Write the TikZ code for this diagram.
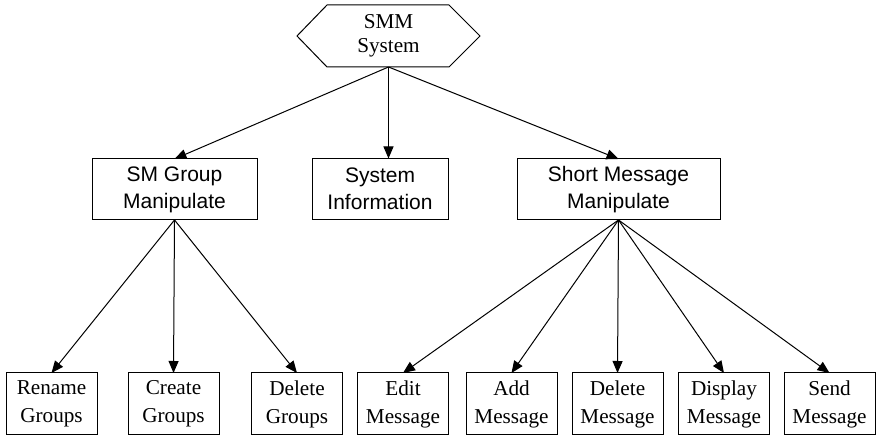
\documentclass[tikz,border=0pt]{standalone}
\usepackage{fontspec}
\setmainfont{Liberation Serif}
\newfontfamily\arialfont{Liberation Sans}
\usetikzlibrary{arrows.meta,calc}

\begin{document}
\begin{tikzpicture}[x=0.5pt,y=0.5pt,line width=0.5pt]
	\tikzset{>={Triangle[length=6pt,width=5pt]}}
	\tikzset{box/.style={draw,align=center,inner sep=0pt,outer sep=0pt,font=\fontsize{10.6}{14}\selectfont}}
	\tikzset{lowbox/.style={box,minimum width=45.5pt,minimum height=31pt}}
	\tikzset{midbox/.style={box,minimum height=30.5pt,font=\arialfont\fontsize{10.5}{13.5}\selectfont}}
	\useasboundingbox (0,0) rectangle (877,437);
	% top
	\node[box,draw=none,minimum width=91.5pt,minimum height=31pt,font=\fontsize{10.6}{12}\selectfont] (sys) at (388.5,401) {SMM\\System};
	\draw (sys.west) -- ([xshift=15pt]sys.north west) -- ([xshift=-15.5pt]sys.north east) -- (sys.east)
		-- ([xshift=-15.5pt]sys.south east) -- ([xshift=15pt]sys.south west) -- cycle;
	% middle
	\node[midbox,minimum width=82.5pt] (grp) at (174.5,247.5) {SM Group\\Manipulate};
	\node[midbox,minimum width=68pt] (info) at (380,248) {System\\Information};
	\node[midbox,minimum width=101.5pt] (sms) at (618.5,247.5) {Short Message\\Manipulate};
	% bottom
	\node[lowbox] (rename) at (51.5,33) {Rename\\Groups};
	\node[lowbox] (create) at (173.5,33) {Create\\Groups};
	\node[lowbox] (delgrp) at (297,33) {Delete\\Groups};
	\node[lowbox] (edit) at (403,33) {Edit\\Message};
	\node[lowbox] (add) at (511.5,33) {Add\\Message};
	\node[lowbox] (delmsg) at (617.5,33) {Delete\\Message};
	\node[lowbox] (disp) at (724,33) {Display\\Message};
	\node[lowbox] (send) at (829.5,33) {Send\\Message};
	% arrows
	\draw[->] (sys.south) -- (grp.north);
	\draw[->] (sys.south) -- (sys.south |- info.north);
	\draw[->] (sys.south) -- (sms.north);
	\foreach \t in {rename,create,delgrp}
		\draw[->] (grp.south) -- (\t.north);
	\foreach \t in {edit,add,delmsg,disp,send}
		\draw[->] (sms.south) -- (\t.north);
\end{tikzpicture}
\end{document}
